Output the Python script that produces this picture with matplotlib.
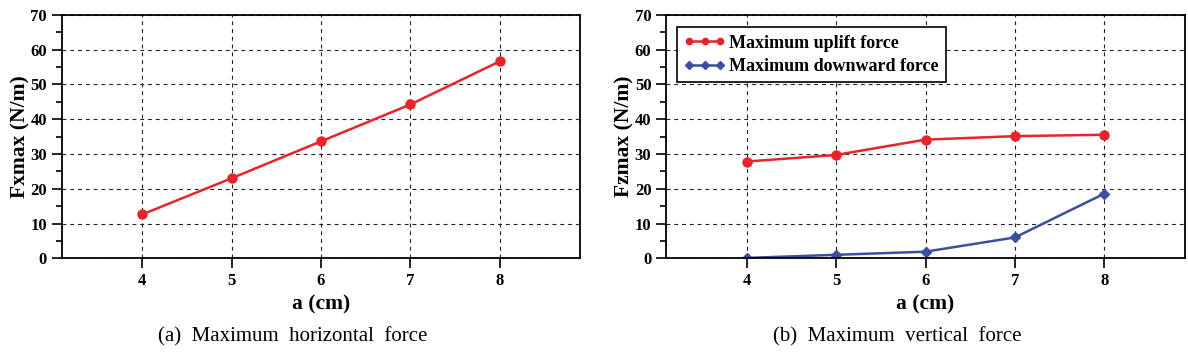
import matplotlib.pyplot as plt
from matplotlib.ticker import MultipleLocator

a_cm = [4, 5, 6, 7, 8]
fx_max = [12.6, 23.0, 33.6, 44.2, 56.6]
fz_uplift = [27.8, 29.7, 34.1, 35.1, 35.5]
fz_down = [0.1, 1.0, 1.9, 6.0, 18.6]

red = "#e8232b"
blue = "#3a4fa0"

plt.rcParams["font.family"] = ["Liberation Serif", "DejaVu Serif"]

fig = plt.figure(figsize=(11.88, 3.56), dpi=100)
ax1 = fig.add_axes([61.7 / 1188, (356 - 258.3) / 356, 518.5 / 1188, 243.6 / 356])
ax2 = fig.add_axes([666 / 1188, (356 - 258.3) / 356, 519 / 1188, 243.6 / 356])


def style(ax, ylabel):
    ax.set_xlim(3.1, 8.9)
    ax.set_ylim(0, 70)
    ax.set_xticks(a_cm)
    ax.yaxis.set_major_locator(MultipleLocator(10))
    ax.yaxis.set_minor_locator(MultipleLocator(5))
    ax.tick_params(axis="both", which="major", direction="out", length=7, width=1.2,
                   labelsize=12)
    ax.tick_params(axis="y", which="minor", direction="out", length=4, width=1.2)
    for lab in ax.get_xticklabels() + ax.get_yticklabels():
        lab.set_fontweight("bold")
    ax.grid(True, which="major", color="#222222", linestyle=(0, (3.5, 3.5)), linewidth=0.8)
    ax.set_axisbelow(True)
    for s in ax.spines.values():
        s.set_linewidth(1.3)
    ax.set_xlabel("a (cm)", fontsize=15.5, fontweight="bold", labelpad=4)
    ax.set_ylabel(ylabel, fontsize=15.5, fontweight="bold", labelpad=0)


ax1.plot(a_cm, fx_max, color=red, marker="o", markersize=6.5, linewidth=1.8)
style(ax1, "Fxmax (N/m)")

ax2.plot(a_cm, fz_uplift, color=red, marker="o", markersize=6.5, linewidth=1.8,
         label="Maximum uplift force")
ax2.plot(a_cm, fz_down, color=blue, marker="D", markersize=5.5, linewidth=1.8,
         label="Maximum downward force")
style(ax2, "Fzmax (N/m)")
leg = ax2.legend(loc="upper left", numpoints=3, handlelength=2.3, handletextpad=0.2,
                 borderpad=0.4, labelspacing=0.35, fancybox=False, framealpha=1,
                 edgecolor="black", prop={"weight": "bold", "size": 13},
                 bbox_to_anchor=(0.003, 0.985))
leg.get_frame().set_linewidth(1.2)
for h in leg.legend_handles:
    h.set_markersize(4.5)

fig.text(ax1.get_position().x0 + ax1.get_position().width / 2 - 0.024, 1 - 337 / 356,
         "(a)  Maximum  horizontal  force", ha="center", va="center", fontsize=15)
fig.text(ax2.get_position().x0 + ax2.get_position().width / 2 - 0.024, 1 - 337 / 356,
         "(b)  Maximum  vertical  force", ha="center", va="center", fontsize=15)

fig.savefig("out.png", dpi=100)
